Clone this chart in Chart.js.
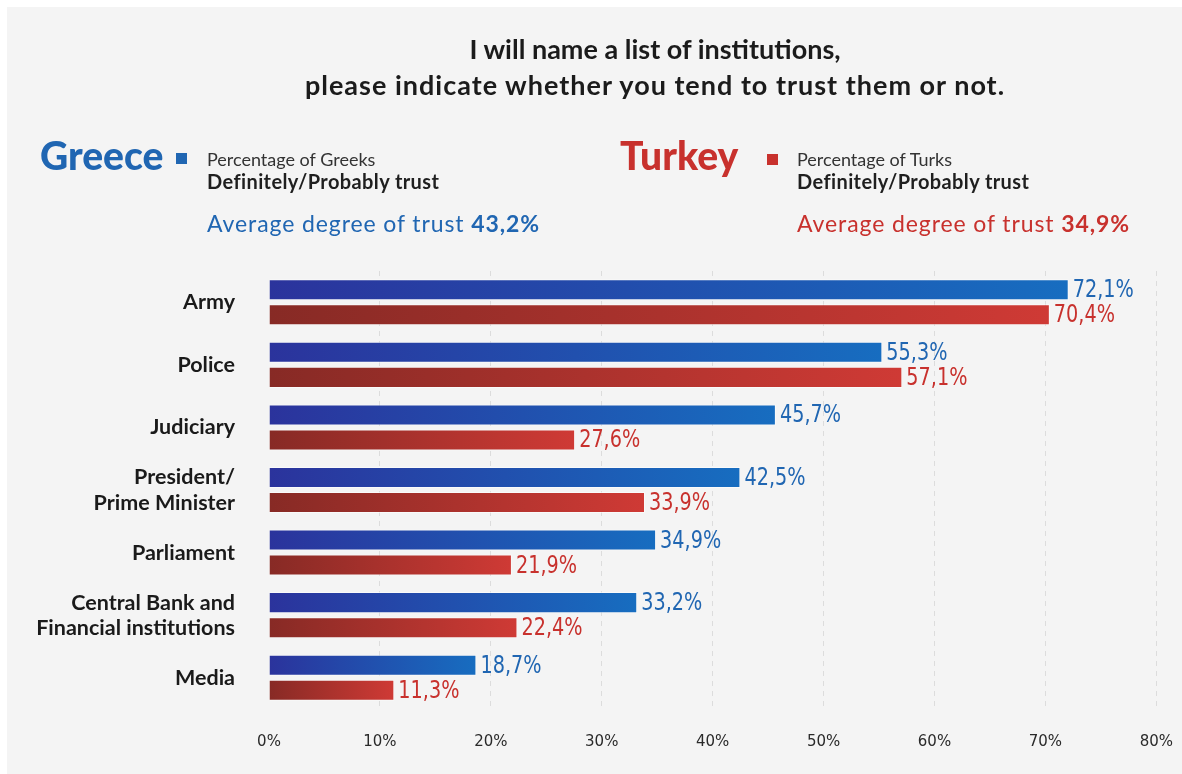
<!DOCTYPE html>
<html>
<head>
<meta charset="utf-8">
<title>Trust in institutions — Greece / Turkey</title>
<script src="https://cdn.jsdelivr.net/npm/chart.js@4.4.1/dist/chart.umd.min.js"></script>
<style>
  html, body { margin: 0; padding: 0; background: #fff; }
  #page { position: relative; width: 1182px; height: 774px; overflow: hidden; font-family: Lato, "Open Sans", sans-serif; }
  #panel { position: absolute; left: 7px; top: 7px; right: 0; bottom: 0; background: #f4f4f4; }
  #chart-box { position: absolute; left: 0; top: 0; width: 1197px; height: 774px; }
  .t { position: absolute; white-space: nowrap; }
  .title { left: 0; width: 1310px; text-align: center; font-size: 27px; font-weight: 700; color: #1b1b1b; line-height: 27px; }
  .country { font-size: 39px; font-weight: 900; line-height: 39px; }
  .sq { position: absolute; width: 11px; height: 11px; }
  .sub { font-size: 18px; line-height: 18px; color: #333; }
  .sub2 { font-size: 20px; line-height: 20px; font-weight: 700; color: #1f1f1f; letter-spacing: 0.4px; }
  .avg { font-size: 23px; line-height: 23px; letter-spacing: 0.9px; }
  .avg b { font-weight: 700; }
  .gr { color: #2066b2; }
  .tr { color: #c8312d; }
</style>
</head>
<body>
<div id="page">
  <div id="panel"></div>
  <div id="chart-box"><canvas id="trust-chart"></canvas></div>

  <div class="t title" style="top:35px;">I will name a list of institutions,</div>
  <div class="t title" style="top:71px; letter-spacing:1px;">please indicate whether you tend to trust them or not.</div>

  <div class="t country gr" style="left:40px; top:136px;">Greece</div>
  <div class="sq" style="left:176px; top:153px; background:#2066b2;"></div>
  <div class="t sub" style="left:207px; top:150px;">Percentage of Greeks</div>
  <div class="t sub2" style="left:207px; top:171px;">Definitely/Probably trust</div>
  <div class="t avg gr" style="left:207px; top:212px;">Average degree of trust <b>43,2%</b></div>

  <div class="t country tr" style="left:620px; top:136px;">Turkey</div>
  <div class="sq" style="left:767px; top:154px; background:#c8312d;"></div>
  <div class="t sub" style="left:797px; top:150px;">Percentage of Turks</div>
  <div class="t sub2" style="left:797px; top:171px;">Definitely/Probably trust</div>
  <div class="t avg tr" style="left:797px; top:212px;">Average degree of trust <b>34,9%</b></div>
</div>

<script>
// institutions, top to bottom
const institutions = [
  'Army',
  'Police',
  'Judiciary',
  ['President/', 'Prime Minister'],
  'Parliament',
  ['Central Bank and', 'Financial institutions'],
  'Media',
];

// % definitely/probably trust
const greece = [72.1, 55.3, 45.7, 42.5, 34.9, 33.2, 18.7];
const turkey = [70.4, 57.1, 27.6, 33.9, 21.9, 22.4, 11.3];

const xTicks = [0, 10, 20, 30, 40, 50, 60, 70, 80];

const NARROW = "'DejaVu Sans', sans-serif";

// each bar fades from a dark tone at 0% to a lighter one at its end
function barGradient(dark, light) {
  return (ctx) => {
    const chart = ctx.chart;
    const { chartArea, scales } = chart;
    if (!chartArea || ctx.type !== 'data') return light;
    const x0 = scales.x.getPixelForValue(0);
    const x1 = scales.x.getPixelForValue(ctx.raw);
    const g = chart.ctx.createLinearGradient(x0, 0, Math.max(x1, x0 + 1), 0);
    g.addColorStop(0, dark);
    g.addColorStop(1, light);
    return g;
  };
}

const fmt = v => v.toFixed(1).replace('.', ',') + '%';

// value labels just past the end of each bar, squeezed horizontally
const valueLabels = {
  id: 'valueLabels',
  afterDatasetsDraw(chart) {
    const c = chart.ctx;
    chart.data.datasets.forEach((ds, i) => {
      const meta = chart.getDatasetMeta(i);
      meta.data.forEach((bar, j) => {
        c.save();
        c.translate(bar.x + 4, bar.y + 1);
        c.scale(0.77, 1);
        c.font = `25px ${NARROW}`;
        c.fillStyle = ds.labelColor;
        c.textBaseline = 'middle';
        c.textAlign = 'left';
        c.fillText(fmt(ds.data[j]), 0, 0);
        c.restore();
      });
    });
  }
};

new Chart(document.getElementById('trust-chart'), {
  type: 'bar',
  data: {
    labels: institutions,
    datasets: [
      {
        label: 'Greece',
        data: greece,
        backgroundColor: barGradient('#2b339c', '#176dc0'),
        borderColor: 'rgba(255,255,255,0.55)',
        borderWidth: 1,
        labelColor: '#2066b2',
        categoryPercentage: 0.8,
        barPercentage: 0.84,
      },
      {
        label: 'Turkey',
        data: turkey,
        backgroundColor: barGradient('#872a25', '#cf3a35'),
        borderColor: 'rgba(255,255,255,0.55)',
        borderWidth: 1,
        labelColor: '#c8312d',
        categoryPercentage: 0.8,
        barPercentage: 0.84,
      },
    ],
  },
  options: {
    indexAxis: 'y',
    responsive: true,
    maintainAspectRatio: false,
    animation: false,
    layout: { padding: { top: 271, right: 10, bottom: 0, left: 0 } },
    plugins: {
      legend: { display: false },
      tooltip: { enabled: false },
    },
    scales: {
      x: {
        min: 0,
        max: 80,
        afterBuildTicks: (axis) => { axis.ticks = xTicks.map(v => ({ value: v })); },
        afterFit: (axis) => { axis.height = 65; },
        ticks: {
          padding: 24,
          color: '#2a2a2a',
          font: { family: NARROW, size: 15 },
          callback: v => v + '%',
        },
        grid: {
          color: (ctx) => (ctx.tick && ctx.tick.value === 0) ? 'rgba(0,0,0,0)' : '#dcdcdc',
          lineWidth: 1,
          drawTicks: false,
        },
        border: { display: false, dash: [5, 5] },
      },
      y: {
        afterFit: (axis) => { axis.width = 269; },
        ticks: {
          padding: 26,
          color: '#1a1a1a',
          font: { family: 'Lato, "Open Sans", sans-serif', size: 21.5, weight: '700', lineHeight: 1.17 },
        },
        grid: { display: false },
        border: { display: false },
      },
    },
  },
  plugins: [valueLabels],
});
</script>
</body>
</html>
